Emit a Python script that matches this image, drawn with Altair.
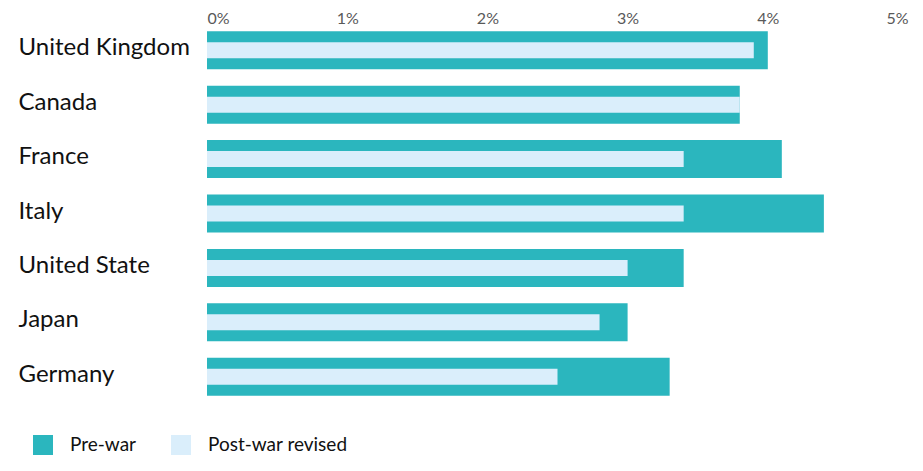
import altair as alt
import pandas as pd

countries = ["United Kingdom", "Canada", "France", "Italy", "United State", "Japan", "Germany"]
pre_war = [4.0, 3.8, 4.1, 4.4, 3.4, 3.0, 3.3]
post_war = [3.9, 3.8, 3.4, 3.4, 3.0, 2.8, 2.5]
series = ["Pre-war", "Post-war revised"]
colors = ["#2BB6BE", "#DAEEFB"]
ticks = [0, 1, 2, 3, 4, 5]

rows = []
for c, p, q in zip(countries, pre_war, post_war):
    rows.append({"country": c, "series": series[0], "value": p})
    rows.append({"country": c, "series": series[1], "value": q})
df = pd.DataFrame(rows)

FONT = "Lato"

y = alt.Y("country:N", sort=countries, title=None,
          scale=alt.Scale(paddingInner=0, paddingOuter=0),
          axis=alt.Axis(labelAlign="left", labelPadding=189, ticks=False, tickSize=0,
                        domain=False, labelFontSize=24, labelColor="#111111",
                        labelFont=FONT, labelBaseline="middle", labelOffset=-2))
x = alt.X("value:Q", title=None,
          scale=alt.Scale(domain=[0, 5], nice=False),
          axis=alt.Axis(orient="top", values=ticks, labelExpr="datum.value + '%'",
                        ticks=False, tickSize=0, domain=False, grid=False,
                        labelFontSize=16, labelColor="#595959", labelFont=FONT,
                        labelPadding=-3))
color = alt.Color("series:N", sort=series,
                  scale=alt.Scale(domain=series, range=colors),
                  legend=alt.Legend(title=None, orient="none", direction="horizontal",
                                    legendX=-174, legendY=412, symbolType="square",
                                    symbolSize=400, symbolStrokeWidth=0,
                                    labelFontSize=19, labelFont=FONT, labelColor="#111111",
                                    labelOffset=17, columnPadding=34, padding=0))

base = alt.Chart(df)
pre = base.transform_filter(alt.datum.series == series[0]).mark_bar(size=38).encode(
    y=y, x=x, color=color)
post = base.transform_filter(alt.datum.series == series[1]).mark_bar(size=16).encode(
    y=y, x=x, color=color)

chart = alt.layer(pre, post).properties(
    width=701, height=381,
    padding={"left": 199, "top": 15, "right": 5, "bottom": 60},
    autosize=alt.AutoSizeParams(type="none"),
).configure_view(stroke=None)

chart.save("out.html", embed_options={"renderer": "svg", "actions": False})
